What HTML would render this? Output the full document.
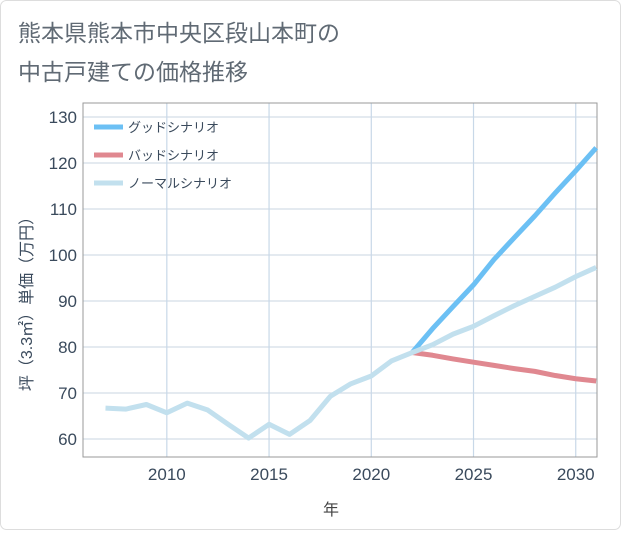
<!DOCTYPE html>
<html><head><meta charset="utf-8"><style>
body{margin:0;background:#fff;font-family:"Liberation Sans","Noto Sans CJK JP",sans-serif}
#wrap{position:relative;width:621px;height:530px}
</style></head><body>
<div id="wrap">
<svg id="svg" width="621" height="530" xmlns="http://www.w3.org/2000/svg">
<rect x="0.5" y="0.5" width="620" height="529" rx="6" fill="#fff" stroke="#ddd"/>
<text x="18" y="41" font-size="23" fill="#606a74">熊本県熊本市中央区段山本町の</text>
<text x="18" y="80" font-size="23" fill="#606a74">中古戸建ての価格推移</text>
<g id="grid"></g>
<rect x="83" y="103" width="514" height="354" fill="none" stroke="#999"/>
<g id="series"></g>
<g id="legend"></g>
<text x="331" y="515" font-size="16" fill="#444" text-anchor="middle">年</text>
<text transform="translate(32,300) rotate(-90)" font-size="16" fill="#3a4a5c" text-anchor="middle">坪（3.3㎡）単価（万円）</text>
</svg></div>
<script>
const years=[2007,2008,2009,2010,2011,2012,2013,2014,2015,2016,2017,2018,2019,2020,2021,2022,2023,2024,2025,2026,2027,2028,2029,2030,2031];
const normal=[66.7,66.5,67.5,65.7,67.8,66.3,63.2,60.2,63.2,61.0,64.0,69.3,72.0,73.7,77.0,78.8,80.5,82.8,84.5,86.8,89.0,91.0,93.0,95.3,97.3];
const fYears=[2022,2023,2024,2025,2026,2027,2028,2029,2030,2031];
const good=[78.8,84.0,88.8,93.5,99.0,103.8,108.5,113.5,118.3,123.3];
const bad=[78.8,78.2,77.4,76.7,76.0,75.3,74.7,73.8,73.1,72.6];
const xTicks=[2010,2015,2020,2025,2030];
const yTicks=[60,70,80,90,100,110,120,130];
const NS="http://www.w3.org/2000/svg";
const X=v=>83+(v-2005.9)*(514/25.14);
const Y=v=>439-(v-60)*4.6;
function mk(tag,attrs,parent){const e=document.createElementNS(NS,tag);for(const k in attrs)e.setAttribute(k,attrs[k]);parent.appendChild(e);return e;}
const grid=document.getElementById('grid');
yTicks.forEach(t=>{
 const l=mk('line',{x1:83,x2:597,y1:Y(t),y2:Y(t),stroke:'#d3dde8','stroke-width':1.2},grid);
 
 
 const tx=mk('text',{x:77,y:Y(t)+6,'font-size':17,fill:'#3a4a5c','text-anchor':'end'},grid);
 tx.textContent=t;
 
 
});
for(let yr=2007;yr<=2031;yr++){
 if(xTicks.includes(yr))continue;
}
xTicks.forEach(t=>{
 const l=mk('line',{x1:X(t),x2:X(t),y1:103,y2:457,stroke:'#c8d8e8','stroke-width':1.2},grid);
 
 
 const tx=mk('text',{x:X(t),y:480,'font-size':17,fill:'#3a4a5c','text-anchor':'middle'},grid);
 tx.textContent=t;
 
 
});
const ser=document.getElementById('series');
function line(xs,ys,color,name){
 const p=mk('polyline',{points:xs.map((x,i)=>X(x)+','+Y(ys[i])).join(' '),fill:'none',stroke:color,'stroke-width':5,'stroke-linejoin':'round'},ser);
 
 
}
line(fYears,bad,'#e08890','bad-scenario-line');
line(fYears,good,'#6cc0f4','good-scenario-line');
line(years,normal,'#c2e0ee','normal-scenario-line');
const leg=document.getElementById('legend');
[['グッドシナリオ','#6cc0f4'],['バッドシナリオ','#e08890'],['ノーマルシナリオ','#c2e0ee']].forEach((d,i)=>{
 const y=127+i*28;
 const l=mk('line',{x1:94,x2:123,y1:y,y2:y,stroke:d[1],'stroke-width':5},leg);
 
 
 const t=mk('text',{x:128,y:y+5,'font-size':13,fill:'#3a4a5c'},leg);
 t.textContent=d[0];
 
 
});
</script>
</body></html>
